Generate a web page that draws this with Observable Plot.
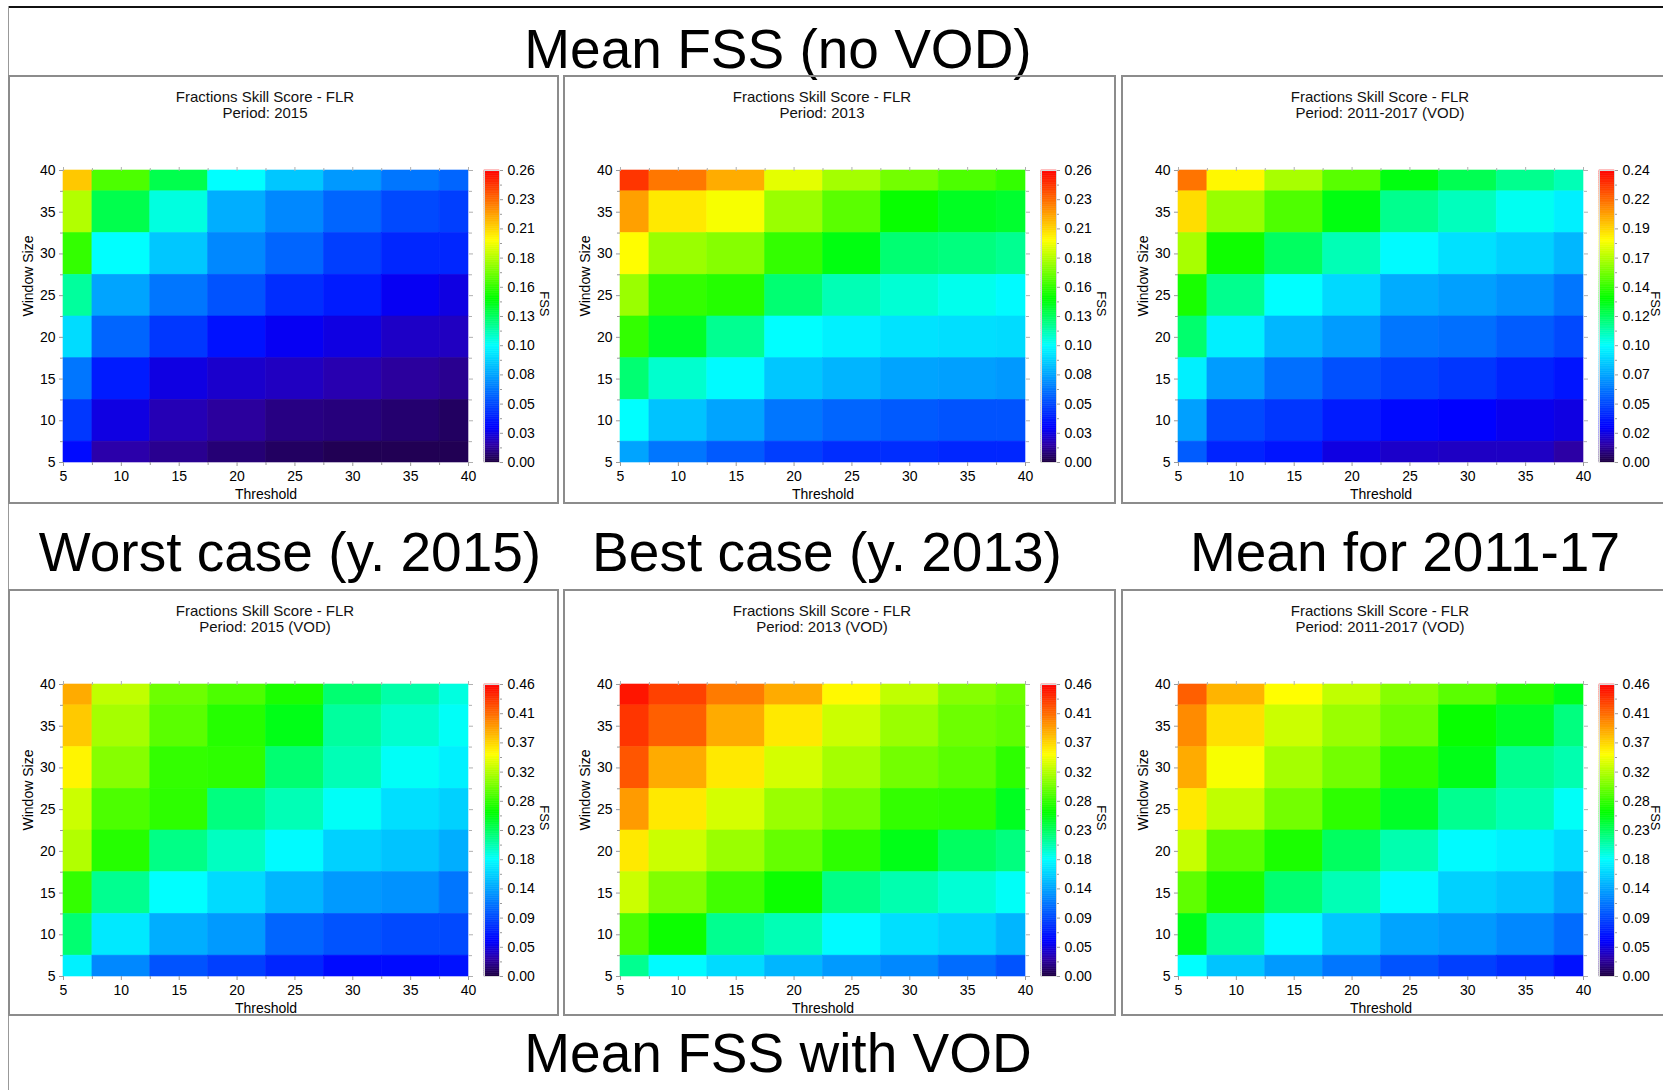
<!DOCTYPE html>
<html>
<head>
<meta charset="utf-8">
<script src="https://cdn.jsdelivr.net/npm/d3@7"></script>
<script src="https://cdn.jsdelivr.net/npm/@observablehq/plot@0.6"></script>
<style>
  html, body { margin: 0; padding: 0; background: #fff; overflow: hidden; }
  #root { position: relative; width: 1663px; height: 1090px; overflow: hidden; font-family: "Liberation Sans", Arial, Helvetica, sans-serif; }
  .big { position: absolute; font-size: 55px; line-height: 55px; white-space: nowrap; transform: translateX(-50%); color: #000; }
  .box { position: absolute; border: 2px solid #8c8c8c; box-sizing: border-box; }
  .ptitle { position: absolute; width: 405px; font-size: 15px; line-height: 16px; text-align: center; color: #111; white-space: nowrap; }
  .plot { position: absolute; }
</style>
</head>
<body>
<div id="root"></div>
<script>
// ---------------- data ----------------
const thresholds = [5, 10, 15, 20, 25, 30, 35, 40];
const windowSizes = [40, 35, 30, 25, 20, 15, 10, 5]; // rows, top to bottom

const fssNoVod2015 = [
  [0.211, 0.161, 0.133, 0.104, 0.088, 0.075, 0.065, 0.060],
  [0.182, 0.133, 0.109, 0.081, 0.070, 0.060, 0.052, 0.049],
  [0.156, 0.104, 0.088, 0.070, 0.060, 0.049, 0.042, 0.042],
  [0.120, 0.078, 0.065, 0.055, 0.044, 0.039, 0.029, 0.026],
  [0.094, 0.060, 0.047, 0.036, 0.029, 0.026, 0.021, 0.020],
  [0.065, 0.039, 0.026, 0.022, 0.020, 0.017, 0.014, 0.012],
  [0.047, 0.026, 0.018, 0.014, 0.010, 0.009, 0.007, 0.005],
  [0.034, 0.016, 0.012, 0.008, 0.005, 0.003, 0.003, 0.003]
];
const fssNoVod2013 = [
  [0.247, 0.231, 0.218, 0.192, 0.179, 0.169, 0.161, 0.156],
  [0.221, 0.203, 0.196, 0.177, 0.164, 0.147, 0.140, 0.138],
  [0.198, 0.177, 0.173, 0.156, 0.143, 0.127, 0.125, 0.122],
  [0.177, 0.156, 0.153, 0.127, 0.116, 0.111, 0.107, 0.103],
  [0.156, 0.139, 0.122, 0.104, 0.100, 0.096, 0.095, 0.094],
  [0.127, 0.112, 0.103, 0.088, 0.083, 0.078, 0.077, 0.075],
  [0.104, 0.087, 0.078, 0.065, 0.060, 0.057, 0.055, 0.055],
  [0.078, 0.065, 0.057, 0.049, 0.044, 0.044, 0.042, 0.042]
];
const fssNoVodMean = [
  [0.214, 0.184, 0.166, 0.151, 0.132, 0.122, 0.113, 0.107],
  [0.190, 0.163, 0.149, 0.132, 0.113, 0.106, 0.098, 0.092],
  [0.166, 0.137, 0.120, 0.107, 0.095, 0.088, 0.084, 0.077],
  [0.139, 0.113, 0.096, 0.086, 0.074, 0.071, 0.067, 0.060],
  [0.118, 0.092, 0.077, 0.070, 0.060, 0.058, 0.053, 0.048],
  [0.092, 0.070, 0.058, 0.050, 0.046, 0.043, 0.038, 0.034],
  [0.071, 0.048, 0.043, 0.036, 0.031, 0.029, 0.026, 0.024],
  [0.053, 0.038, 0.034, 0.024, 0.020, 0.019, 0.019, 0.014]
];
const fssVod2015 = [
  [0.386, 0.327, 0.297, 0.285, 0.267, 0.225, 0.209, 0.193],
  [0.373, 0.317, 0.290, 0.271, 0.251, 0.212, 0.198, 0.186],
  [0.354, 0.306, 0.276, 0.274, 0.225, 0.205, 0.186, 0.177],
  [0.331, 0.285, 0.274, 0.221, 0.205, 0.186, 0.168, 0.161],
  [0.322, 0.271, 0.219, 0.202, 0.182, 0.161, 0.154, 0.143],
  [0.276, 0.216, 0.184, 0.166, 0.147, 0.133, 0.129, 0.115],
  [0.225, 0.173, 0.143, 0.133, 0.106, 0.097, 0.092, 0.092],
  [0.177, 0.124, 0.097, 0.087, 0.074, 0.060, 0.060, 0.064]
];
const fssVod2013 = [
  [0.451, 0.432, 0.407, 0.386, 0.352, 0.327, 0.306, 0.297],
  [0.437, 0.419, 0.386, 0.359, 0.331, 0.313, 0.297, 0.292],
  [0.423, 0.386, 0.359, 0.334, 0.317, 0.299, 0.290, 0.274],
  [0.393, 0.359, 0.334, 0.313, 0.299, 0.276, 0.274, 0.248],
  [0.359, 0.331, 0.313, 0.294, 0.274, 0.251, 0.230, 0.221],
  [0.331, 0.304, 0.281, 0.262, 0.219, 0.207, 0.196, 0.186],
  [0.285, 0.262, 0.216, 0.205, 0.182, 0.168, 0.161, 0.147],
  [0.216, 0.182, 0.166, 0.147, 0.133, 0.124, 0.110, 0.097]
];
const fssVodMean = [
  [0.419, 0.382, 0.350, 0.327, 0.306, 0.290, 0.271, 0.251],
  [0.400, 0.363, 0.331, 0.313, 0.297, 0.260, 0.246, 0.221],
  [0.386, 0.347, 0.317, 0.299, 0.274, 0.251, 0.216, 0.207],
  [0.359, 0.327, 0.299, 0.274, 0.246, 0.216, 0.205, 0.186],
  [0.329, 0.290, 0.267, 0.230, 0.207, 0.182, 0.177, 0.166],
  [0.292, 0.267, 0.225, 0.205, 0.182, 0.161, 0.154, 0.138],
  [0.251, 0.212, 0.182, 0.156, 0.138, 0.133, 0.124, 0.110],
  [0.184, 0.154, 0.133, 0.115, 0.097, 0.087, 0.078, 0.064]
];

const cbLabels026 = ["0.00", "0.03", "0.05", "0.08", "0.10", "0.13", "0.16", "0.18", "0.21", "0.23", "0.26"];
const cbLabels024 = ["0.00", "0.02", "0.05", "0.07", "0.10", "0.12", "0.14", "0.17", "0.19", "0.22", "0.24"];
const cbLabels046 = ["0.00", "0.05", "0.09", "0.14", "0.18", "0.23", "0.28", "0.32", "0.37", "0.41", "0.46"];

const titleLine1 = "Fractions Skill Score - FLR";
const periodLabels = ["Period: 2015", "Period: 2013", "Period: 2011-2017 (VOD)",
                      "Period: 2015 (VOD)", "Period: 2013 (VOD)", "Period: 2011-2017 (VOD)"];
const headTop = "Mean FSS (no VOD)";
const headMiddle = ["Worst case (y. 2015)", "Best case (y. 2013)", "Mean for 2011-17"];
const headBottom = "Mean FSS with VOD";

// ---------------- style / layout ----------------
const FONT = '"Liberation Sans", Arial, Helvetica, sans-serif';
const FS = 14;
const cmapStops = [0, 0.06, 0.12, 0.40, 0.56, 0.76, 0.88, 1];
const cmapColors = ["#1e0040", "#2c00a8", "#0000ff", "#00ffff", "#00ff00", "#ffff00", "#ff8000", "#ff0000"];

const boxX = [8, 563, 1121], boxW = [551, 553, 546];
const boxY = [75, 589], boxH = [429, 427];
const heatOff = [54.5, 56.5, 56.5];
const heatTopOff = [95, 94.5];
const fssOffset = [45, 45, 41];
const HW = 405, HH = 292;

const panels = [
  {data: fssNoVod2015, max: 0.26, labels: cbLabels026, col: 0, row: 0, period: periodLabels[0]},
  {data: fssNoVod2013, max: 0.26, labels: cbLabels026, col: 1, row: 0, period: periodLabels[1]},
  {data: fssNoVodMean, max: 0.24, labels: cbLabels024, col: 2, row: 0, period: periodLabels[2]},
  {data: fssVod2015,   max: 0.46, labels: cbLabels046, col: 0, row: 1, period: periodLabels[3]},
  {data: fssVod2013,   max: 0.46, labels: cbLabels046, col: 1, row: 1, period: periodLabels[4]},
  {data: fssVodMean,   max: 0.46, labels: cbLabels046, col: 2, row: 1, period: periodLabels[5]}
];

const root = document.getElementById("root");
function addDiv(cls, css, text) {
  const d = document.createElement("div");
  if (cls) d.className = cls;
  Object.assign(d.style, css);
  if (text != null) d.textContent = text;
  root.appendChild(d);
  return d;
}

// frame lines
addDiv(null, {position: "absolute", left: "8px", top: "6px", width: "1700px", height: "2px", background: "#111"});
addDiv(null, {position: "absolute", left: "8px", top: "6px", width: "1px", height: "1100px", background: "#999"});

// big headings
addDiv("big", {left: "778px", top: "22px"}, headTop);
const midX = [290, 827, 1405];
headMiddle.forEach((t, i) => addDiv("big", {left: midX[i] + "px", top: "525px"}, t));
addDiv("big", {left: "778px", top: "1026px"}, headBottom);

const minorTicks = thresholds.slice(0, -1).map((t, i) => (t + thresholds[i + 1]) / 2);
const step = thresholds[1] - thresholds[0];
const lo = thresholds[0], hi = thresholds[thresholds.length - 1];
const blank = () => "";

function colorScale(max) {
  return {type: "linear", domain: cmapStops.map(s => s * max), range: cmapColors, interpolate: "rgb", clamp: true};
}

function heatmap(p) {
  const cells = [];
  p.data.forEach((row, i) => row.forEach((v, j) => cells.push({t: thresholds[j], w: windowSizes[i], v})));
  const ML = 60, MR = 10, MT = 10, MB = 50;
  return Plot.plot({
    width: ML + HW + MR, height: MT + HH + MB,
    marginLeft: ML, marginRight: MR, marginTop: MT, marginBottom: MB,
    style: {fontFamily: FONT, fontSize: FS + "px", color: "#000", background: "transparent", overflow: "visible"},
    x: {domain: [lo, hi], axis: null},
    y: {domain: [lo, hi], axis: null},
    color: colorScale(p.max),
    marks: [
      Plot.rect(cells, {
        x1: d => Math.max(lo, d.t - step / 2), x2: d => Math.min(hi, d.t + step / 2),
        y1: d => Math.max(lo, d.w - step / 2), y2: d => Math.min(hi, d.w + step / 2),
        fill: "v", stroke: "v", strokeWidth: 0.6
      }),
      Plot.axisX(thresholds, {anchor: "bottom", tickSize: 4, tickPadding: 5, stroke: "#9a9a9a", fill: "#000", fontSize: FS, label: null}),
      Plot.axisX(minorTicks, {anchor: "bottom", tickSize: 3, stroke: "#9a9a9a", tickFormat: blank, label: null}),
      Plot.axisX(thresholds, {anchor: "top", tickSize: 4, stroke: "#b0b0b0", tickFormat: blank, label: null}),
      Plot.axisX(minorTicks, {anchor: "top", tickSize: 3, stroke: "#b0b0b0", tickFormat: blank, label: null}),
      Plot.axisY(thresholds, {anchor: "left", tickSize: 4, tickPadding: 4, stroke: "#9a9a9a", fill: "#000", fontSize: FS, label: null}),
      Plot.axisY(minorTicks, {anchor: "left", tickSize: 3, stroke: "#9a9a9a", tickFormat: blank, label: null}),
      Plot.axisY(thresholds, {anchor: "right", tickSize: 4, stroke: "#b0b0b0", tickFormat: blank, label: null}),
      Plot.axisY(minorTicks, {anchor: "right", tickSize: 3, stroke: "#b0b0b0", tickFormat: blank, label: null}),
      Plot.text(["Threshold"], {frameAnchor: "bottom", dy: 36, fontSize: FS, fill: "#000"}),
      Plot.text(["Window Size"], {frameAnchor: "left", dx: -35, rotate: -90, fontSize: FS, fill: "#000"})
    ]
  });
}

function colorbar(p) {
  const n = 160;
  const ramp = d3.range(n).map(i => ({a: p.max * i / n, b: p.max * (i + 1) / n}));
  const nl = p.labels.length - 1;
  const ticks = p.labels.map((_, i) => p.max * i / nl);
  const minor = d3.range(nl).map(i => p.max * (i + 0.5) / nl);
  const MT = 10, MB = 10, MR = 70;
  return Plot.plot({
    width: 15 + MR, height: MT + HH + MB,
    marginLeft: 0, marginRight: MR, marginTop: MT, marginBottom: MB,
    style: {fontFamily: FONT, fontSize: FS + "px", color: "#000", background: "transparent", overflow: "visible"},
    x: {domain: [0, 1], axis: null},
    y: {domain: [0, p.max], axis: null},
    color: colorScale(p.max),
    marks: [
      Plot.rect(ramp, {x1: 0, x2: 1, y1: "a", y2: "b", fill: d => (d.a + d.b) / 2, stroke: d => (d.a + d.b) / 2, strokeWidth: 0.5}),
      Plot.frame({stroke: "#d8d8d8"}),
      Plot.axisY(ticks, {anchor: "right", tickSize: 3, tickPadding: 5, stroke: "#9a9a9a", fill: "#000", fontSize: FS, label: null,
        tickFormat: d => p.labels[Math.round(d / p.max * nl)]}),
      Plot.axisY(minor, {anchor: "right", tickSize: 2, stroke: "#9a9a9a", tickFormat: blank, label: null}),
      Plot.text(["FSS"], {frameAnchor: "right", dx: fssOffset[p.col], rotate: 90, fontSize: 13, fill: "#000"})
    ]
  });
}

panels.forEach(p => {
  const bx = boxX[p.col], by = boxY[p.row];
  addDiv("box", {left: bx + "px", top: by + "px", width: boxW[p.col] + "px", height: boxH[p.row] + "px"});
  const hx = bx + heatOff[p.col], hy = by + heatTopOff[p.row];
  addDiv("ptitle", {left: hx + "px", top: (hy - 81) + "px"}, titleLine1);
  addDiv("ptitle", {left: hx + "px", top: (hy - 65) + "px"}, p.period);
  const h = heatmap(p);
  h.classList.add("plot");
  Object.assign(h.style, {left: (hx - 60) + "px", top: (hy - 10) + "px"});
  root.appendChild(h);
  const c = colorbar(p);
  c.classList.add("plot");
  Object.assign(c.style, {left: (hx + HW + 16) + "px", top: (hy - 10) + "px"});
  root.appendChild(c);
});
</script>
</body>
</html>
